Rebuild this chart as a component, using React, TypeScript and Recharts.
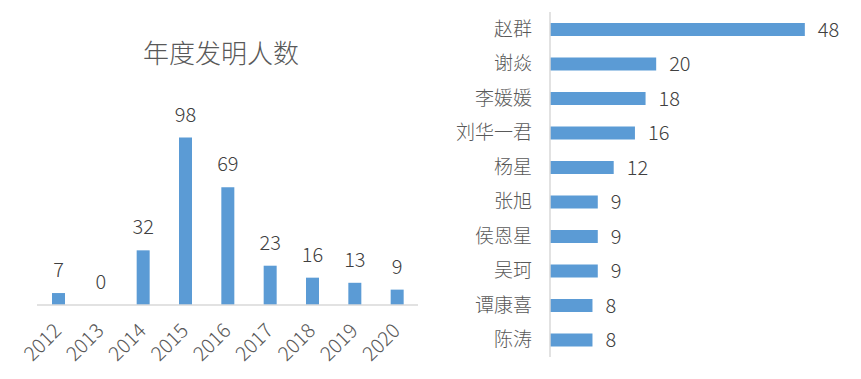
import React from "react";
import { BarChart, Bar, XAxis, YAxis, LabelList } from "recharts";

const years = ["2012", "2013", "2014", "2015", "2016", "2017", "2018", "2019", "2020"];
const yearCounts = [7, 0, 32, 98, 69, 23, 16, 13, 9];

const inventors = ["赵群", "谢焱", "李媛媛", "刘华一君", "杨星", "张旭", "侯恩星", "吴珂", "谭康喜", "陈涛"];
const inventorCounts = [48, 20, 18, 16, 12, 9, 9, 9, 8, 8];

const FONT = '"Noto Sans CJK SC", "Noto Sans", sans-serif';
const WEIGHT = 300;
const BAR = "#5b9bd5";
const AXIS = "#d9d9d9";

const yearData = years.map((year, i) => ({ year, count: yearCounts[i] }));
const inventorData = inventors.map((name, i) => ({ name, count: inventorCounts[i] }));

// rotated year labels under the left chart
const YearTick = (props: any) => {
  const { x, y, payload } = props;
  return (
    <g transform={`translate(${x + 4.5},${y + 19}) rotate(-45)`}>
      <text textAnchor="end" fill="#595959" fontSize={20} fontFamily={FONT} fontWeight={WEIGHT}>
        {payload.value}
      </text>
    </g>
  );
};

const NameTick = (props: any) => {
  const { x, y, payload } = props;
  return (
    <text x={x} y={y} dy="0.35em" textAnchor="end" fill="#595959" fontSize={19} fontFamily={FONT} fontWeight={WEIGHT}>
      {payload.value}
    </text>
  );
};

// value label above each column (also drawn for zero-height bars)
const TopLabel = (props: any) => {
  const { x, y, width, value } = props;
  return (
    <text
      x={Number(x) + Number(width) / 2}
      y={Number(y) - 16}
      textAnchor="middle"
      fill="#404040"
      fontSize={20}
      fontFamily={FONT}
      fontWeight={WEIGHT}
    >
      {String(value)}
    </text>
  );
};

export default function App() {
  return (
    <div style={{ position: "absolute", left: 0, top: 0, width: 861, height: 379, background: "#fff" }}>
      <div
        style={{
          position: "absolute",
          left: 121,
          top: 36,
          width: 200,
          textAlign: "center",
          fontFamily: FONT,
          fontWeight: WEIGHT,
          fontSize: 26,
          color: "#595959",
          lineHeight: "32px",
        }}
      >
        年度发明人数
      </div>
      <div style={{ position: "absolute", left: 0, top: 0 }}>
        <BarChart width={440} height={379} data={yearData} margin={{ top: 100, right: 22, bottom: 0, left: 37 }}>
          <XAxis
            dataKey="year"
            height={74}
            tickLine={false}
            axisLine={{ stroke: AXIS, strokeWidth: 1.5 }}
            tick={<YearTick />}
            interval={0}
          />
          <YAxis hide domain={[0, 120]} />
          <Bar
            dataKey="count"
            fill={BAR}
            barSize={13}
            minPointSize={(v: number) => (v === 0 ? 0.01 : 0)}
            isAnimationActive={false}
          >
            <LabelList dataKey="count" content={<TopLabel />} />
          </Bar>
        </BarChart>
      </div>
      <div style={{ position: "absolute", left: 440, top: 0 }}>
        <BarChart
          width={421}
          height={379}
          data={inventorData}
          layout="vertical"
          margin={{ top: 12, right: 19, bottom: 22, left: 0 }}
        >
          <XAxis type="number" hide domain={[0, 55]} />
          <YAxis
            type="category"
            dataKey="name"
            width={110}
            tickLine={false}
            axisLine={{ stroke: AXIS, strokeWidth: 1.5 }}
            tick={<NameTick />}
            tickMargin={12}
            interval={0}
          />
          <Bar dataKey="count" fill={BAR} barSize={13} isAnimationActive={false}>
            <LabelList
              dataKey="count"
              position="right"
              offset={13}
              fill="#404040"
              fontSize={20}
              fontFamily={FONT}
              fontWeight={WEIGHT}
            />
          </Bar>
        </BarChart>
      </div>
    </div>
  );
}
